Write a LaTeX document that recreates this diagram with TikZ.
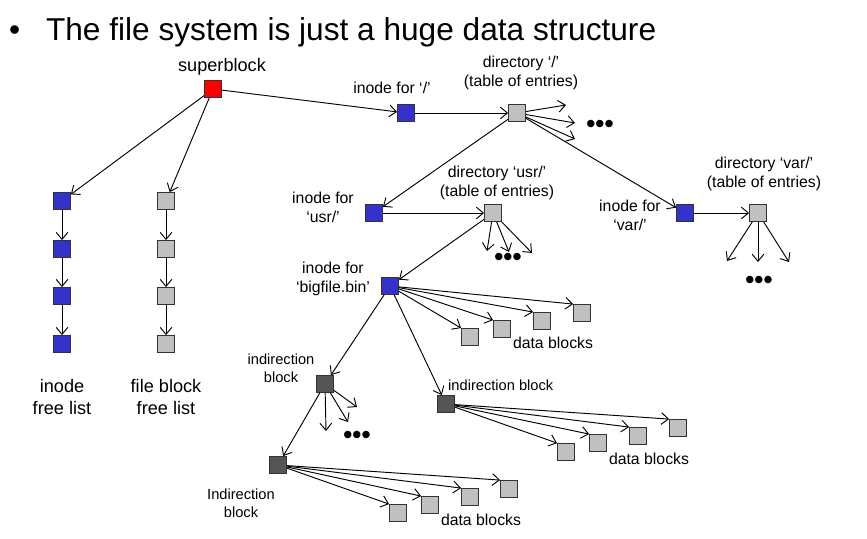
\documentclass[tikz,border=0pt]{standalone}
\usepackage{fontspec}
\setmainfont{Liberation Sans}
\usetikzlibrary{arrows.meta}
\definecolor{sbred}{HTML}{FF0000}
\definecolor{inodeblue}{HTML}{3333CC}
\definecolor{datagray}{HTML}{C0C0C0}
\definecolor{indgray}{HTML}{555555}
\definecolor{edgegray}{HTML}{333333}
\begin{document}
\begin{tikzpicture}[x=0.03cm, y=-0.03cm,
    blk/.style={draw=edgegray, line width=1pt, minimum size=0.5cm, inner sep=0pt},
    sblk/.style={blk, fill=sbred},
    iblk/.style={blk, fill=inodeblue},
    dblk/.style={blk, fill=datagray},
    xblk/.style={blk, fill=indgray},
    conn/.style={-{Straight Barb[length=6pt, width=10pt]}, line width=0.8pt},
    lbl/.style={font=\fontsize{13.5pt}{16pt}\selectfont, align=center, inner sep=0pt},
    smalllbl/.style={font=\fontsize{12.5pt}{15.5pt}\selectfont, align=center, inner sep=0pt},
    biglbl/.style={font=\fontsize{15.5pt}{18.7pt}\selectfont, align=center, inner sep=0pt},
    more/.style={font=\fontsize{22pt}{22pt}\selectfont\bfseries, inner sep=0pt},
]
    \useasboundingbox (0,0) rectangle (867,539);

    % Title
    \node[anchor=west, inner sep=0pt, font=\fontsize{27pt}{32pt}\selectfont] (title) at (9,32) {•\hskip 22pt The file system is just a huge data structure};

    % Superblock
    \node[sblk] (sb) at (213,89) {};
    \node[lbl, font=\fontsize{15.5pt}{18pt}\selectfont] (sblbl) at (222,67) {superblock};

    % Free lists
    \foreach \i/\y in {1/201, 2/249, 3/296, 4/344} {
        \node[iblk] (if\i) at (62,\y) {};
        \node[dblk] (ff\i) at (166,\y) {};
    }
    \foreach \i/\j in {1/2, 2/3, 3/4} {
        \draw[conn] (if\i) -- (if\j);
        \draw[conn] (ff\i) -- (ff\j);
    }
    \node[biglbl] (iflbl) at (62,397) {inode\\free list};
    \node[biglbl] (fflbl) at (166,397) {file block\\free list};
    \draw[conn] (sb) -- (if1);
    \draw[conn] (sb) -- (ff1);

    % Root directory
    \node[iblk] (iroot) at (406,113) {};
    \node[lbl] (irootlbl) at (392,88) {inode for ‘/’};
    \node[dblk] (droot) at (517,113) {};
    \node[lbl] (drootlbl) at (521,73) {directory ‘/’\\(table of entries)};
    \draw[conn] (sb) -- (iroot);
    \draw[conn] (iroot) -- (droot);
    \coordinate (dr1) at (566,105);
    \coordinate (dr2) at (575,123);
    \coordinate (dr3) at (575,139);
    \foreach \c in {dr1, dr2, dr3} \draw[conn] (droot) -- (\c);
    \node[more] (drmore) at (600,126) {•••};

    % usr directory
    \node[iblk] (iusr) at (374,213) {};
    \node[lbl] (iusrlbl) at (323,207) {inode for\\‘usr/’};
    \node[dblk] (dusr) at (493,213) {};
    \node[lbl] (dusrlbl) at (497,183) {directory ‘usr/’\\(table of entries)};
    \draw[conn] (droot) -- (iusr);
    \draw[conn] (iusr) -- (dusr);
    \coordinate (du1) at (487,251);
    \coordinate (du2) at (509,252);
    \coordinate (du3) at (532,253);
    \foreach \c in {du1, du2, du3} \draw[conn] (dusr) -- (\c);
    \node[more] (dumore) at (508,259) {•••};

    % var directory
    \node[iblk] (ivar) at (685,213) {};
    \node[lbl] (ivarlbl) at (630,215) {inode for\\‘var/’};
    \node[dblk] (dvar) at (758,213) {};
    \node[lbl] (dvarlbl) at (764,174) {directory ‘var/’\\(table of entries)};
    \draw[conn] (droot) -- (ivar);
    \draw[conn] (ivar) -- (dvar);
    \coordinate (dv1) at (727,261);
    \coordinate (dv2) at (758,262);
    \coordinate (dv3) at (789,262);
    \foreach \c in {dv1, dv2, dv3} \draw[conn] (dvar) -- (\c);
    \node[more] (dvmore) at (759,282) {•••};

    % bigfile inode
    \node[iblk] (ibig) at (390,286) {};
    \node[lbl] (ibiglbl) at (333,279) {inode for\\‘bigfile.bin’};
    \draw[conn] (dusr) -- (ibig);
    \foreach \i/\x/\y in {1/470/337, 2/502/329, 3/542/321, 4/582/313} {
        \node[dblk] (bd\i) at (\x,\y) {};
        \draw[conn] (ibig) -- (bd\i.north west);
    }
    \node[lbl] (bdlbl) at (553,343) {data blocks};

    % Indirection blocks
    \node[xblk] (ind1) at (325,384) {};
    \node[smalllbl] (ind1lbl) at (281,368) {indirection\\block};
    \node[xblk] (ind2) at (446,404) {};
    \node[smalllbl, anchor=west] (ind2lbl) at (448,385) {indirection block};
    \node[xblk] (ind3) at (278,465) {};
    \node[smalllbl] (ind3lbl) at (241,503) {Indirection\\block};
    \draw[conn] (ibig) -- (ind1);
    \draw[conn] (ibig) -- (ind2);
    \draw[conn] (ind1) -- (ind3);
    \coordinate (x1) at (326,431);
    \coordinate (x2) at (348,422);
    \coordinate (x3) at (357,407);
    \foreach \c in {x1, x2, x3} \draw[conn] (ind1) -- (\c);
    \node[more] (xmore) at (357,437) {•••};

    % Data blocks of indirection blocks
    \foreach \i/\x/\y in {1/566/452, 2/598/443, 3/638/436, 4/678/428} {
        \node[dblk] (ed\i) at (\x,\y) {};
        \draw[conn] (ind2) -- (ed\i.north west);
    }
    \node[lbl] (edlbl) at (649,459) {data blocks};
    \foreach \i/\x/\y in {1/398/513, 2/430/505, 3/470/497, 4/509/489} {
        \node[dblk] (fd\i) at (\x,\y) {};
        \draw[conn] (ind3) -- (fd\i.north west);
    }
    \node[lbl] (fdlbl) at (481,520) {data blocks};
\end{tikzpicture}
\end{document}
